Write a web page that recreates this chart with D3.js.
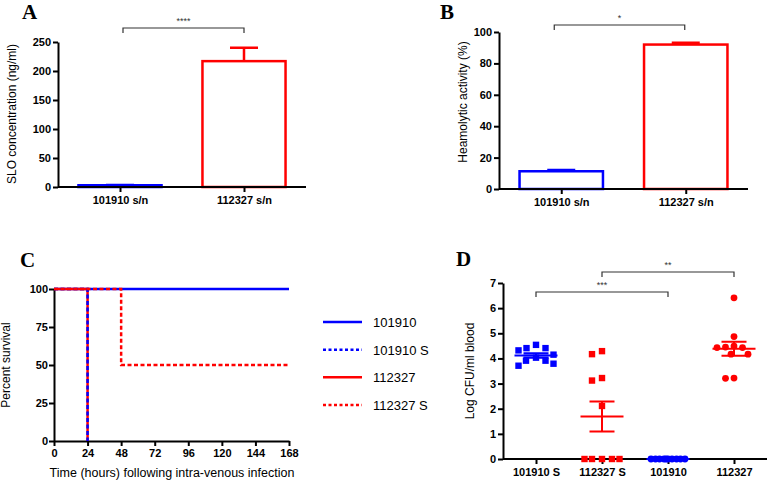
<!DOCTYPE html>
<html>
<head>
<meta charset="utf-8">
<script src="https://cdn.jsdelivr.net/npm/d3@7"></script>
<style>
  body { margin: 0; background: #fff; }
  svg { display: block; font-family: "Liberation Sans", Arial, sans-serif; }
  .domain, .tick line { stroke: #000; stroke-width: 2; }
</style>
</head>
<body>
<svg id="chart" width="768" height="481"></svg>
<script>
// ---------- DATA ----------
// Panel A: SLO concentration (ng/ml)
const barCats = ["101910 s/n", "112327 s/n"];
const sloValues = [3, 217];
const sloErrors = [0.6, 23];
const sloTicks = [0, 50, 100, 150, 200, 250];
// Panel B: Haemolytic activity (%)
const hemoValues = [11.3, 92];
const hemoErrors = [0.8, 1.2];
const hemoTicks = [0, 20, 40, 60, 80, 100];
const barColors = ["#0000ff", "#ff0000"];

// Panel C: survival (step curves: time in hours, percent survival)
const survSeries = ["101910", "101910 S", "112327", "112327 S"];
const survTimes = {
  "101910": [0, 168],
  "101910 S": [0, 24],
  "112327": [0, 24],
  "112327 S": [0, 48, 168]
};
const survValues = {
  "101910": [100, 100],
  "101910 S": [100, 0],
  "112327": [100, 0],
  "112327 S": [100, 50, 50]
};
const survColors = ["#0000ff", "#0000ff", "#ff0000", "#ff0000"];
const survDashed = [false, true, false, true];
const timeTicks = [0, 24, 48, 72, 96, 120, 144, 168];
const survTicks = [0, 25, 50, 75, 100];

// Panel D: Log CFU/ml blood
const cfuCats = ["101910 S", "112327 S", "101910", "112327"];
const cfu101910S = [4.54, 4.41, 4.41, 4.32, 4.15, 4.03, 3.91, 3.91, 3.79, 3.71];
const cfu112327S = [4.29, 4.17, 3.22, 3.12, 2.11, 0, 0, 0, 0, 0];
const cfu101910 = [0, 0, 0, 0, 0, 0, 0, 0, 0, 0];
const cfu112327 = [6.41, 4.87, 4.49, 4.45, 4.43, 4.43, 4.17, 4.17, 3.22, 3.21];
const cfuColors = ["#0000ff", "#ff0000", "#0000ff", "#ff0000"];
const cfuShapes = ["square", "square", "circle", "circle"];
const cfuTicks = [0, 1, 2, 3, 4, 5, 6, 7];

// ---------- DRAW ----------
const svg = d3.select("#chart");

function styleAxis(g) {
  g.attr("font-family", "'Liberation Sans', Arial, sans-serif");
  g.selectAll(".tick text").attr("font-weight", "bold").attr("font-size", 11).attr("fill", "#000");
}
function panelLetter(txt, x, y) {
  svg.append("text").attr("x", x).attr("y", y).text(txt)
    .attr("font-family", "'Liberation Serif', 'Times New Roman', serif")
    .attr("font-weight", "bold").attr("font-size", 21);
}
function yTitle(txt, x, y) {
  svg.append("text").attr("transform", `translate(${x},${y}) rotate(-90)`)
    .attr("text-anchor", "middle").attr("font-size", 12).attr("font-weight", "normal").text(txt);
}
function bracket(x1, x2, y, label) {
  const g = svg.append("g").attr("stroke", "#333").attr("stroke-width", 1.2).attr("fill", "none");
  g.append("path").attr("d", `M${x1},${y + 5}V${y}H${x2}V${y + 5}`);
  svg.append("text").attr("x", (x1 + x2) / 2).attr("y", y - 4).attr("text-anchor", "middle")
    .attr("font-size", 9).attr("fill", "#333").text(label);
}

function barPanel(opt) {
  const x = d3.scalePoint().domain(barCats).range([opt.x0, opt.x1]).padding(0.5);
  const y = d3.scaleLinear().domain([0, opt.ticks[opt.ticks.length - 1]]).range([opt.yb, opt.yt]);
  const bw = x.step() * 0.67;
  const g = svg.append("g");
  opt.values.forEach((v, i) => {
    const cx = x(barCats[i]);
    g.append("rect").attr("x", cx - bw / 2).attr("y", y(v)).attr("width", bw)
      .attr("height", y(0) - y(v)).attr("fill", "none")
      .attr("stroke", barColors[i]).attr("stroke-width", 2.5);
    const e = opt.errors[i];
    g.append("path").attr("d", `M${cx},${y(v)}V${y(v + e)}M${cx - 14},${y(v + e)}H${cx + 14}`)
      .attr("stroke", barColors[i]).attr("stroke-width", 2.5).attr("fill", "none");
  });
  svg.append("g").attr("transform", `translate(${opt.x0},0)`)
    .call(d3.axisLeft(y).tickValues(opt.ticks).tickSize(5).tickSizeOuter(0).tickPadding(2))
    .call(styleAxis);
  const xa = svg.append("g").attr("transform", `translate(0,${opt.yb})`)
    .call(d3.axisBottom(x).tickSize(5).tickSizeOuter(0).tickPadding(4))
    .call(styleAxis);
  xa.select(".domain").attr("d", `M${opt.x0},0H${opt.x1}`);
  return x;
}

// Panel A
panelLetter("A", 22, 19);
const xA = barPanel({ x0: 58, x1: 306, yb: 187, yt: 42, values: sloValues, errors: sloErrors, ticks: sloTicks });
yTitle("SLO concentration (ng/ml)", 16, 114);
bracket(xA(barCats[0]) + 3, xA(barCats[1]), 28, "****");

// Panel B
panelLetter("B", 440, 19);
const xB = barPanel({ x0: 499, x1: 748, yb: 189, yt: 32, values: hemoValues, errors: hemoErrors, ticks: hemoTicks });
yTitle("Heamolytic activity (%)", 467, 102);
bracket(xB(barCats[0]) - 7, xB(barCats[1]) - 1, 25, "*");

// Panel C
panelLetter("C", 20, 267);
{
  const x = d3.scaleLinear().domain([0, 168]).range([54, 289]);
  const y = d3.scaleLinear().domain([0, 100]).range([441, 289]);
  const line = d3.line().curve(d3.curveStepAfter).x(d => x(d[0])).y(d => y(d[1]));
  const order = [0, 2, 1, 3];
  svg.append("g").attr("transform", "translate(54,0)")
    .call(d3.axisLeft(y).tickValues(survTicks).tickSize(5).tickSizeOuter(0).tickPadding(1))
    .call(styleAxis);
  svg.append("g").attr("transform", "translate(0,441)")
    .call(d3.axisBottom(x).tickValues(timeTicks).tickSize(5).tickSizeOuter(0).tickPadding(3))
    .call(styleAxis);
  order.forEach(i => {
    const s = survSeries[i];
    const pts = survTimes[s].map((t, k) => [t, survValues[s][k]]);
    svg.append("path").attr("d", line(pts)).attr("fill", "none")
      .attr("stroke", survColors[i]).attr("stroke-width", 2.5)
      .attr("stroke-dasharray", survDashed[i] ? "4,2.5" : null);
  });
  yTitle("Percent survival", 10, 365);
  svg.append("text").attr("x", 172).attr("y", 477).attr("text-anchor", "middle")
    .attr("font-size", 12.5).attr("font-weight", "normal").text("Time (hours) following intra-venous infection");
  // legend
  const ly = d3.scalePoint().domain(survSeries).range([322, 405]);
  survSeries.forEach((s, i) => {
    svg.append("line").attr("x1", 323).attr("x2", 362).attr("y1", ly(s)).attr("y2", ly(s))
      .attr("stroke", survColors[i]).attr("stroke-width", 2.5)
      .attr("stroke-dasharray", survDashed[i] ? "3,2.5" : null);
    svg.append("text").attr("x", 373).attr("y", ly(s) + 5).attr("font-size", 13).text(s);
  });
}

// Panel D
panelLetter("D", 456, 266);
{
  const x = d3.scalePoint().domain(cfuCats).range([503, 767]).padding(0.5);
  const y = d3.scaleLinear().domain([0, 7]).range([459, 283]);
  svg.append("g").attr("transform", "translate(503,0)")
    .call(d3.axisLeft(y).tickValues(cfuTicks).tickFormat(d3.format("d")).tickSize(5).tickSizeOuter(0).tickPadding(2))
    .call(styleAxis);
  const xa = svg.append("g").attr("transform", "translate(0,459)")
    .call(d3.axisBottom(x).tickSize(5).tickSizeOuter(0).tickPadding(4))
    .call(styleAxis);
  xa.select(".domain").attr("d", "M503,0H767");

  const groups = [cfu101910S, cfu112327S, cfu101910, cfu112327];
  const maxOff = 17.5;
  groups.forEach((vals, gi) => {
    const dmin = cfuShapes[gi] === "square" ? 10 : 8.5;
    const cx = x(cfuCats[gi]);
    const placed = [];
    vals.forEach(v => {
      const py = y(v);
      let best = null, bestD = -1;
      const cands = [0];
      for (let o = 0.5; o <= maxOff; o += 0.5) cands.push(-o, o);
      for (const o of cands) {
        let md = Infinity;
        placed.forEach(p => { md = Math.min(md, Math.hypot(p[0] - o, p[1] - py)); });
        if (md >= dmin) { best = o; bestD = Infinity; break; }
        if (md > bestD + 0.01) { bestD = md; best = o; }
      }
      placed.push([best, py]);
    });
    const g = svg.append("g").attr("fill", cfuColors[gi]);
    placed.forEach(p => {
      if (cfuShapes[gi] === "square") {
        g.append("rect").attr("x", cx + p[0] - 3.2).attr("y", p[1] - 3.2).attr("width", 6.4).attr("height", 6.4);
      } else {
        g.append("circle").attr("cx", cx + p[0]).attr("cy", p[1]).attr("r", 3.4);
      }
    });
    const m = d3.mean(vals);
    const sem = d3.deviation(vals) / Math.sqrt(vals.length) || 0;
    svg.append("path")
      .attr("d", `M${cx - 21.5},${y(m)}H${cx + 21.5}M${cx},${y(m - sem)}V${y(m + sem)}` +
        `M${cx - 12.5},${y(m - sem)}H${cx + 12.5}M${cx - 12.5},${y(m + sem)}H${cx + 12.5}`)
      .attr("stroke", cfuColors[gi]).attr("stroke-width", 2).attr("fill", "none");
  });
  yTitle("Log CFU/ml blood", 474, 371);
  bracket(x(cfuCats[0]), x(cfuCats[2]), 292, "***");
  bracket(x(cfuCats[1]), x(cfuCats[3]), 272, "**");
}
</script>
</body>
</html>
